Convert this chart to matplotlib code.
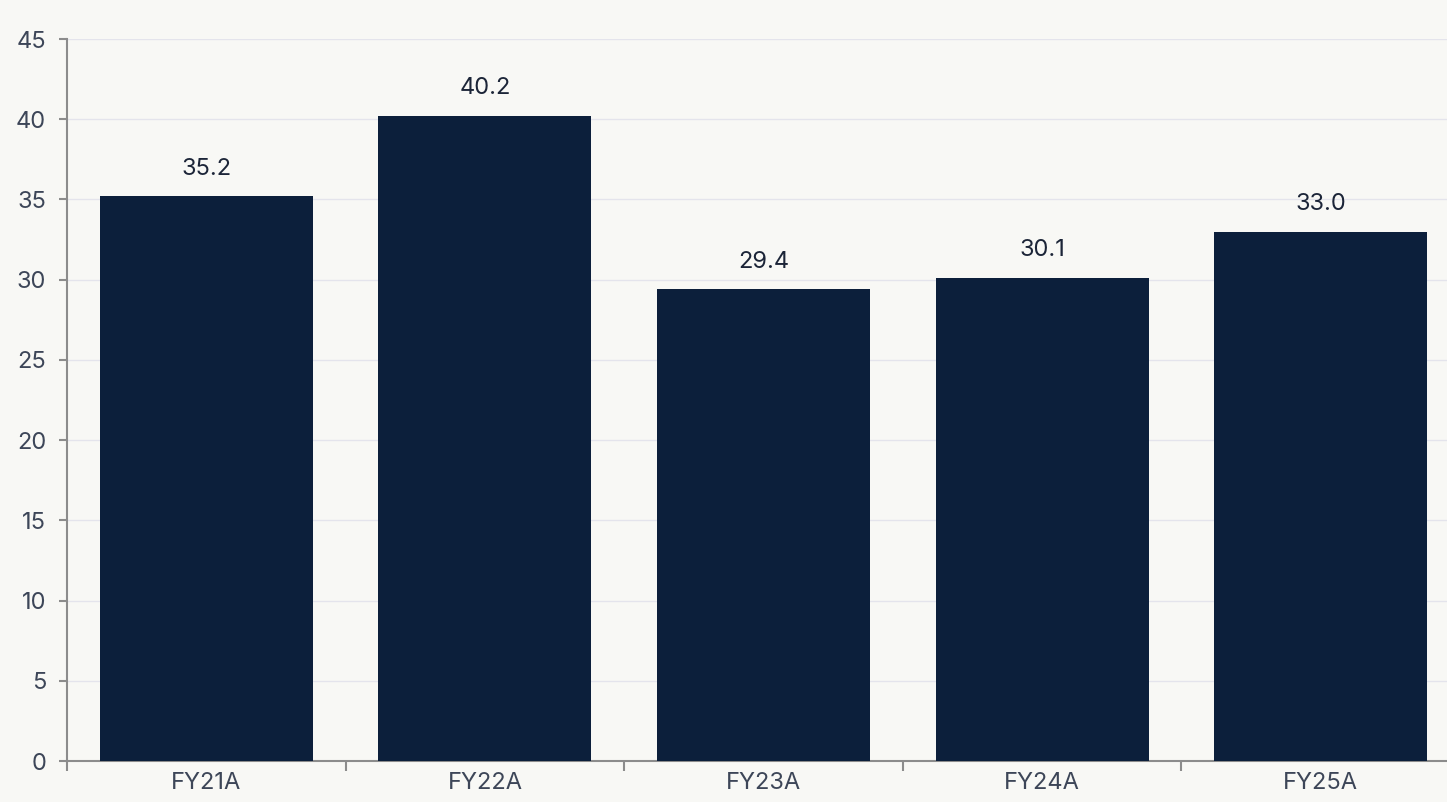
import matplotlib
matplotlib.use("Agg")
import matplotlib.pyplot as plt
import numpy as np

categories = ["FY21A", "FY22A", "FY23A", "FY24A", "FY25A"]
values = [35.2, 40.2, 29.4, 30.1, 33.0]
y_ticks = [0, 5, 10, 15, 20, 25, 30, 35, 40, 45]

plt.rcParams['font.family'] = ['Inter', 'DejaVu Sans']

bg = "#f8f8f5"
bar_color = "#0c1f3b"
axis_color = "#8c8c8c"
tick_text = "#3d4658"

fig = plt.figure(figsize=(14.47, 8.02), dpi=100, facecolor=bg)
ax = fig.add_axes([67 / 1447, 1 - 761 / 802, 1393 / 1447, 722 / 802])
ax.set_facecolor(bg)

x = np.arange(len(categories))
ax.bar(x, values, width=0.765, color=bar_color, zorder=3)

for xi, v in zip(x, values):
    ax.annotate(f"{v:.1f}", (xi, v), xytext=(0, 12), textcoords="offset points",
                ha="center", va="bottom", fontsize=17, color="#1c2538", zorder=4)

ax.set_xlim(-0.5, len(categories) - 0.5)
ax.set_ylim(0, 45)
ax.set_yticks(y_ticks)
ax.set_yticklabels([str(t) for t in y_ticks])
ax.set_xticks(x)
ax.set_xticklabels(categories)
ax.set_xticks(np.arange(-0.5, len(categories), 1.0), minor=True)

ax.tick_params(axis="x", which="major", length=0, pad=8, labelsize=17, labelcolor=tick_text)
ax.tick_params(axis="x", which="minor", length=7, width=1.5, color=axis_color, direction="out")
ax.tick_params(axis="y", length=6, width=1.5, color=axis_color, pad=9, labelsize=17, labelcolor=tick_text)

ax.grid(axis="y", color="#e4e4ec", linewidth=1, zorder=0)
for side in ("top", "right"):
    ax.spines[side].set_visible(False)
for side in ("left", "bottom"):
    ax.spines[side].set_color(axis_color)
    ax.spines[side].set_linewidth(1.5)

fig.savefig("out.png", dpi=100, facecolor=bg)
